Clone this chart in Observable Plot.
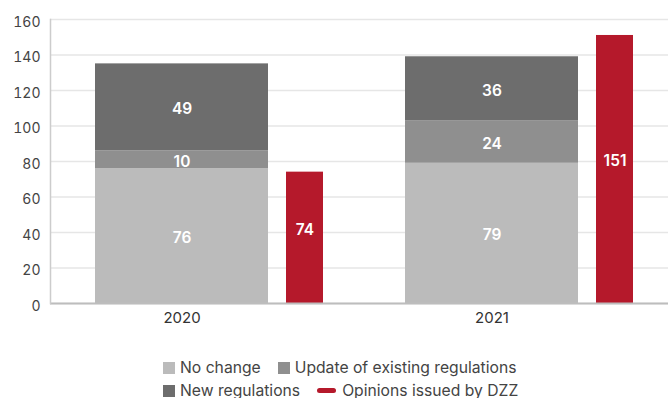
<!DOCTYPE html>
<html>
<head>
<meta charset="utf-8">
<script src="https://cdn.jsdelivr.net/npm/d3@7"></script>
<script src="https://cdn.jsdelivr.net/npm/@observablehq/plot@0.6"></script>
<style>
  body { margin: 0; background: #fff; font-family: Inter, "Noto Sans", sans-serif; }
  #legend { display: flex; flex-wrap: wrap; width: 366px; margin: 16px 0 0 163px; column-gap: 17px; row-gap: 0; font-size: 15.7px; color: #444; line-height: 23px; }
  .item { display: flex; align-items: center; gap: 5px; white-space: nowrap; }
  .sq { width: 12px; height: 12px; display: inline-block; }
  .ln { width: 19px; height: 5px; border-radius: 3px; display: inline-block; margin-right: 1px; }
</style>
</head>
<body>
<div id="chart"></div>
<div id="legend"></div>
<script>
const years = ["2020", "2021"];
const series = ["No change", "Update of existing regulations", "New regulations"];
const noChange = [76, 79];
const updates = [10, 24];
const newRegs = [49, 36];
const opinions = [74, 151];
const opinionsLabel = "Opinions issued by DZZ";
const seriesColors = ["#bbbbbb", "#8f8f8f", "#6d6d6d"];
const red = "#b5192b";
const yTicks = [0, 20, 40, 60, 80, 100, 120, 140, 160];

const seriesValues = [noChange, updates, newRegs];
const stacked = [];
years.forEach((yr, i) => series.forEach((s, j) => stacked.push({year: yr, series: s, value: seriesValues[j][i]})));
const dzz = years.map((yr, i) => ({year: yr, value: opinions[i]}));

const chart = Plot.plot({
  width: 668,
  height: 340,
  marginLeft: 50,
  marginRight: 0,
  marginTop: 19,
  marginBottom: 37,
  style: {fontFamily: "Inter, 'Noto Sans', sans-serif", background: "#fff"},
  x: {type: "band", domain: years, paddingInner: 0.4405, paddingOuter: 0.2139, align: 0.331, label: null},
  y: {domain: [0, 160], ticks: yTicks, label: null},
  color: {domain: series, range: seriesColors},
  marks: [
    Plot.gridY(yTicks, {stroke: "#e6e6e6", strokeOpacity: 1, strokeWidth: 1.5}),
    Plot.barY(stacked, {x: "year", y: "value", fill: "series"}),
    Plot.barY(dzz, {x: "year", y: "value", fill: red, dx: 123, insetLeft: 68, insetRight: 68}),
    Plot.text(stacked, Plot.stackY({x: "year", y: "value", text: d => String(d.value), fill: "#fff", fontSize: 15.5, fontWeight: 600, dy: 2})),
    Plot.text(dzz, {x: "year", y: d => d.value / 2, text: d => String(d.value), fill: "#fff", fontSize: 15.5, fontWeight: 600, dx: 123, dy: -8}),
    Plot.ruleY([0], {stroke: "#bdbdbd", strokeWidth: 2}),
    Plot.frame({anchor: "left", stroke: "#cccccc", strokeWidth: 1.5}),
    Plot.axisY(yTicks, {tickSize: 0, tickPadding: 10, fontSize: 14, fill: "#444", dy: 3, label: null}),
    Plot.axisX({tickSize: 0, tickPadding: 9, fontSize: 15, fill: "#333", label: null})
  ]
});
document.getElementById("chart").appendChild(chart);

const legend = document.getElementById("legend");
const items = series.map((s, j) => ({label: s, color: seriesColors[j], type: "sq"}));
items.push({label: opinionsLabel, color: red, type: "ln"});
items.forEach(it => {
  const el = document.createElement("span");
  el.className = "item";
  const sw = document.createElement("span");
  sw.className = it.type;
  sw.style.background = it.color;
  el.appendChild(sw);
  el.appendChild(document.createTextNode(it.label));
  legend.appendChild(el);
});
</script>
</body>
</html>
